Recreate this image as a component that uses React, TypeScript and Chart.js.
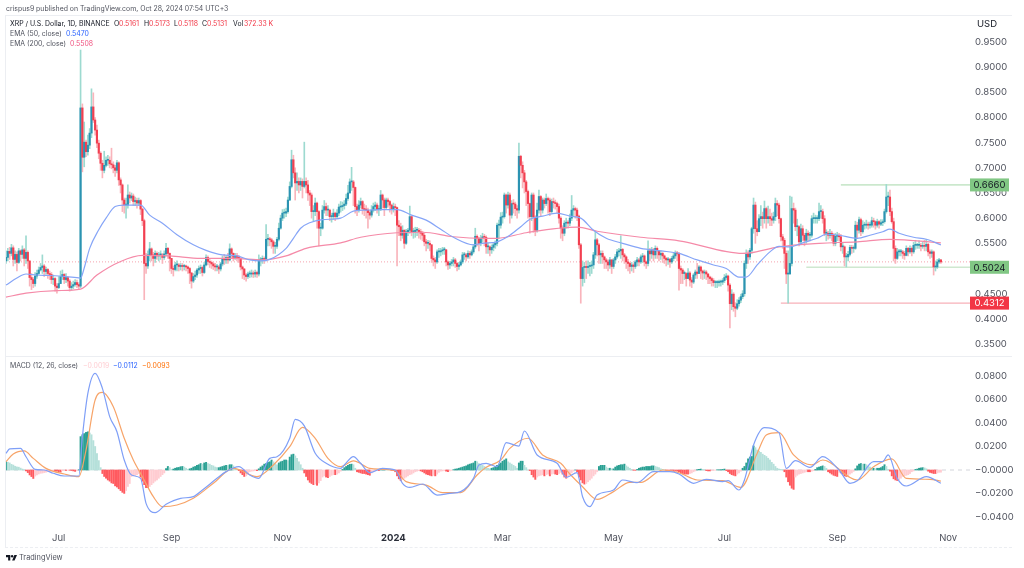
import { useEffect, useRef } from "react";
import { Chart, registerables } from "chart.js";

Chart.register(...registerables);

// daily XRP/USD, 2 Jun 2023 .. 28 Oct 2024, prices in thousandths of a dollar
const firstOpen = 515;
const closes = [
  522,534,530,541,518,528,512,535,528,537,
  520,532,515,482,478,470,485,490,497,502,
  505,494,498,490,488,478,480,465,462,470,
  484,488,478,482,475,462,465,468,472,468,
  465,819,721,751,732,745,769,821,795,775,
  749,729,709,695,705,715,715,708,706,700,
  695,710,676,666,636,626,626,646,640,644,
  633,635,630,635,618,595,510,505,527,539,
  527,520,530,525,527,527,522,529,540,530,
  520,500,498,507,507,504,505,504,505,503,
  500,491,475,484,487,497,500,502,492,507,
  522,514,512,509,505,503,503,499,509,520,
  517,522,517,539,530,522,525,522,520,503,
  499,487,484,489,489,491,489,492,489,517,
  517,520,517,558,558,557,553,544,544,558,
  580,600,610,610,613,636,663,716,690,670,
  673,666,673,663,673,666,650,646,613,613,
  630,613,580,580,616,623,616,616,603,603,
  610,603,610,622,623,625,628,639,650,672,
  672,661,623,616,626,633,619,617,616,611,
  606,616,623,626,617,617,646,636,621,636,
  633,626,617,623,621,586,583,566,576,550,
  573,576,603,573,573,576,576,573,570,566,
  553,550,550,547,520,517,513,533,533,535,
  537,537,513,507,510,513,517,510,504,507,
  513,527,527,523,530,527,533,543,564,560,
  550,560,563,562,543,543,537,542,547,550,
  586,586,602,603,646,626,646,606,629,628,
  619,616,723,705,690,672,653,629,603,646,
  602,576,616,643,616,636,629,639,636,613,
  633,631,629,623,600,580,570,590,591,590,
  600,616,619,616,604,547,480,502,504,502,
  504,505,507,527,557,547,527,530,523,517,
  513,507,517,504,517,523,533,535,538,527,
  523,513,510,504,507,504,513,517,513,523,
  525,513,510,535,529,537,527,540,535,527,
  530,525,520,517,518,513,520,525,530,529,
  500,497,490,490,480,491,477,473,487,493,
  490,503,495,491,493,489,483,480,476,472,
  472,472,473,473,476,482,485,467,430,449,
  424,421,430,437,444,450,510,530,523,536,
  579,626,579,573,599,603,599,619,599,603,
  599,596,603,629,626,599,563,556,530,489,
  489,510,619,616,583,583,553,579,566,556,
  570,566,566,599,599,599,599,613,613,599,
  570,570,566,570,566,550,564,566,563,543,
  543,523,523,528,542,540,540,586,576,597,
  573,586,586,588,586,586,595,593,586,593,
  588,591,593,613,642,642,613,593,540,520,
  533,533,533,530,526,540,533,540,533,546,
  546,546,546,544,546,544,548,533,530,533,
  503,503,513,517,513,
];
const highs = [
  535,540,542,548,545,535,533,540,537,545,
  540,565,535,515,490,482,492,497,503,510,
  527,508,503,500,495,492,487,482,470,484,
  495,497,490,490,484,478,472,475,478,477,
  472,934,827,791,755,765,778,857,849,800,
  785,755,732,715,733,722,725,722,739,712,
  705,715,712,680,668,640,640,666,652,650,
  648,642,640,640,637,620,598,530,535,552,
  541,532,535,533,532,535,530,535,550,542,
  531,520,505,512,515,510,510,510,508,507,
  505,502,492,490,495,500,505,507,505,512,
  527,525,518,515,512,510,508,506,512,525,
  528,525,530,549,541,531,530,530,526,522,
  505,500,490,493,495,497,495,497,495,527,
  522,525,523,587,568,562,560,556,552,562,
  590,606,617,618,620,642,672,735,725,700,
  690,680,680,678,751,680,675,655,650,625,
  640,632,615,590,625,635,630,625,618,610,
  618,612,617,628,633,632,635,648,665,678,
  701,675,662,628,635,640,635,628,625,620,
  615,625,630,632,630,625,655,648,640,640,
  640,635,628,630,628,622,595,590,585,577,
  578,580,624,604,580,582,582,580,578,574,
  570,558,556,555,548,525,522,537,540,540,
  542,542,538,515,514,518,522,520,512,512,
  517,532,532,530,535,534,537,548,580,567,
  562,566,570,568,565,550,545,547,551,555,
  590,596,611,612,650,648,652,650,635,637,
  632,625,749,725,712,695,675,656,630,650,
  650,605,630,656,645,640,640,648,642,640,
  638,640,636,632,628,603,585,595,600,595,
  608,645,625,622,620,606,550,515,512,515,
  515,512,515,532,573,560,550,535,535,525,
  520,517,522,518,520,528,538,540,565,540,
  530,525,518,512,512,510,516,522,520,527,
  530,527,515,555,540,542,540,545,543,535,
  535,532,527,522,522,520,524,530,535,534,
  532,505,500,495,492,500,494,482,490,497,
  510,506,505,497,497,496,490,485,483,480,
  476,476,477,477,480,488,490,487,470,458,
  452,432,438,442,449,456,515,537,535,540,
  582,640,632,595,607,625,612,634,622,624,
  618,610,612,640,635,630,600,568,560,535,
  535,644,642,630,620,598,585,588,585,570,
  578,575,572,605,610,606,605,630,625,618,
  605,577,574,578,574,570,570,572,570,568,
  550,545,530,534,546,546,545,594,592,602,
  600,595,592,596,592,592,602,600,595,598,
  595,597,597,618,667,652,656,620,600,545,
  540,538,538,536,534,545,542,545,543,552,
  556,550,555,550,552,556,558,550,537,537,
  535,515,518,520,518,
];
const lows = [
  510,515,518,525,505,510,495,510,515,520,
  505,510,500,465,458,462,465,480,488,495,
  490,484,488,480,478,470,468,455,451,460,
  470,478,470,472,465,455,457,460,465,462,
  460,462,692,702,722,725,738,760,790,765,
  740,718,695,680,690,702,705,700,698,690,
  683,690,665,650,613,610,600,620,630,635,
  625,625,620,625,607,585,438,490,500,515,
  515,505,512,518,515,518,510,518,525,520,
  495,490,485,495,495,495,497,495,497,495,
  490,470,461,472,478,482,490,490,485,490,
  505,507,502,500,498,495,495,490,495,505,
  508,510,510,515,520,515,518,515,512,497,
  480,478,475,480,482,483,482,483,482,485,
  505,510,510,515,545,545,540,530,530,540,
  555,578,595,600,603,610,635,660,680,636,
  655,650,655,640,660,650,635,625,600,595,
  605,580,545,565,578,610,605,605,595,592,
  598,595,600,605,612,615,618,625,635,650,
  655,625,610,605,612,620,608,605,600,580,
  598,602,612,615,610,605,615,620,605,618,
  622,612,608,612,605,505,565,555,560,540,
  548,565,570,565,560,562,565,560,558,555,
  545,535,540,535,512,505,500,510,522,525,
  528,528,505,498,500,505,505,502,495,498,
  505,510,518,515,520,520,525,530,540,545,
  535,545,552,545,530,530,525,530,535,540,
  545,560,580,590,600,610,620,590,600,610,
  605,600,610,680,660,650,625,600,570,595,
  572,565,572,610,605,610,620,625,610,605,
  610,620,618,610,590,560,555,565,580,580,
  585,595,605,600,595,540,431,465,472,480,
  490,485,490,500,520,525,510,510,510,500,
  500,495,500,490,500,510,520,525,520,515,
  510,500,495,490,495,492,500,505,505,510,
  512,505,500,505,515,520,515,520,520,515,
  518,512,510,505,508,502,510,515,520,515,
  457,470,470,478,465,480,465,462,470,480,
  480,490,480,478,480,478,470,470,465,465,
  462,462,465,465,468,472,478,455,382,418,
  415,404,418,425,432,440,445,500,510,518,
  530,570,550,565,590,585,580,590,580,590,
  585,585,590,595,605,590,555,540,500,470,
  431,489,505,590,575,565,545,550,555,545,
  550,555,555,562,590,590,590,595,600,590,
  565,555,558,560,555,545,545,555,555,535,
  530,505,503,515,525,530,532,538,560,570,
  565,570,578,580,578,580,582,582,578,582,
  580,585,585,590,610,625,605,590,515,510,
  518,525,525,520,518,525,525,530,525,530,
  538,540,540,535,540,535,535,525,520,522,
  487,495,500,510,510,
];

// moving averages read at a handful of days: [day index], [price in thousandths]
const ema50Days = [0,6,11,17,24,33,41,43,46,51,55,60,65,74,79,86,94,103,110,119,127,134,140,145,154,158,162,167,174,184,191,198,207,215,223,231,239,246,257,262,270,277,283,288,295,303,310,316,323,330,339,349,360,370,380,389,396,403,407,413,420,425,431,438,446,451,458,468,475,482,486,491,499,506,514];
const ema50Values = [467,481,489,487,486,484,481,501,540,577,600,623,626,626,606,590,567,547,536,527,525,517,515,518,540,560,580,591,597,600,614,616,617,617,606,596,578,562,547,550,553,566,583,598,604,610,604,600,576,560,550,540,535,530,517,507,500,483,483,507,533,544,543,551,560,568,566,560,566,573,578,570,562,558,547];
const ema200Days = [0,11,28,41,50,63,75,90,107,125,141,154,165,184,195,215,229,246,264,270,286,314,325,349,370,405,409,425,447,468,486,514];
const ema200Values = [443,451,456,459,487,514,526,525,520,520,517,525,540,551,562,571,572,563,560,560,571,582,574,562,555,530,531,543,550,553,558,551];

// MACD pane, values in units of 0.0001
const macdDays = [0,2,8,11,16,21,26,32,40,42,45,49,53,57,61,65,69,74,77,82,88,96,103,108,116,121,128,134,139,145,149,156,159,164,170,176,184,186,191,195,200,207,214,218,222,229,237,244,250,257,260,264,270,275,282,285,292,303,308,314,317,321,325,334,339,347,356,365,370,378,385,394,397,403,406,411,417,425,429,434,442,449,458,464,468,477,482,485,490,495,506,514];
const macdValues = [142,179,184,113,6,0,-28,-51,-51,284,652,823,695,454,326,85,-43,-71,-284,-363,-292,-241,-227,-170,-71,-14,28,-43,-71,99,113,270,431,375,142,57,14,43,113,57,-23,14,0,-113,-148,-119,-213,-199,-184,-71,43,57,28,233,204,332,128,57,-62,-23,-227,-312,-213,-170,-85,-108,-14,-14,-34,-113,-79,-99,-91,-170,-85,213,360,318,14,79,23,113,0,-113,-91,71,71,128,-71,-136,-57,-113];
const signalDays = [0,4,10,15,22,32,40,44,49,53,59,65,70,75,81,86,94,103,114,125,138,147,156,163,170,177,184,191,200,207,214,220,231,240,250,259,264,272,277,287,295,305,310,317,325,334,343,349,361,370,380,394,404,413,418,425,433,443,449,468,477,487,495,508,514];
const signalValues = [71,136,162,99,14,-34,-57,170,596,661,539,270,85,-57,-227,-312,-298,-241,-113,14,-57,43,199,363,270,99,28,77,14,6,-6,-99,-128,-193,-193,-43,23,85,184,270,128,57,-34,-142,-250,-184,-105,-105,0,-23,-85,-91,-148,142,298,318,128,43,85,-85,28,94,-71,-79,-94];
const histogram = [
  70,66,60,48,42,32,26,24,16,8,
  2,-8,-22,-42,-56,-72,-52,-42,-34,-28,
  -26,-22,-18,-14,-12,-10,-8,-8,-10,-14,
  -18,-6,-4,-4,-2,-2,-4,-8,-12,-6,
  2,284,300,310,320,325,315,300,250,200,
  140,80,20,-30,-55,-70,-85,-95,-110,-115,
  -135,-145,-160,-175,-190,-199,-175,-140,-115,-55,
  -50,-45,-40,-30,-60,-95,-125,-150,-150,-140,
  -125,-110,-95,-85,-70,-55,-40,-25,12,30,
  20,5,8,15,20,22,28,30,25,15,
  5,10,15,25,30,40,45,55,50,60,
  65,55,50,40,35,25,20,20,25,30,
  35,40,38,45,45,35,20,5,-5,-25,
  -40,-55,-50,-35,-15,-10,-8,-5,-5,10,
  25,35,50,55,65,70,85,70,55,45,
  60,70,75,85,85,80,110,130,135,120,
  100,70,45,15,-25,-55,-85,-105,-115,-125,
  -120,-130,-110,-90,-60,-50,-60,-65,-55,-45,
  -40,-40,-35,-25,-10,5,20,30,40,48,
  50,45,15,-15,-20,-25,-30,-30,-35,-40,
  -45,-25,-15,-8,-5,-5,3,8,10,8,
  5,3,-3,-5,-15,-50,-75,-90,-80,-70,
  -60,-50,-40,-35,-25,-15,-10,-5,-8,-15,
  -25,-35,-40,-45,-50,-45,-50,-35,-20,-10,
  -8,-5,-10,-15,-8,-3,3,8,10,15,
  20,25,30,35,45,50,55,60,75,70,
  55,45,40,30,20,15,10,15,20,30,
  40,50,60,75,85,95,70,60,50,40,
  30,15,60,75,75,40,20,0,-5,-40,
  -60,-80,-60,-50,-45,-40,-50,-40,-35,-50,
  -35,-30,-35,-40,-30,-20,-35,-60,-70,-55,
  -40,-25,-10,0,-15,-60,-85,-110,-120,-115,
  -100,-85,-70,-50,-35,-15,30,40,40,40,
  25,15,15,10,10,25,35,40,45,45,
  50,35,25,15,5,-2,-3,5,15,20,
  25,25,30,30,30,35,35,30,25,20,
  10,5,0,-3,-3,-3,-3,-5,-5,-10,
  -15,-25,-30,-35,-35,-35,-30,-25,-15,-8,
  3,5,8,5,3,-5,-8,-8,-5,-3,
  -2,2,2,3,5,8,-5,-15,-30,-40,
  -45,-50,-35,-25,-10,15,30,60,95,110,
  115,205,190,170,160,150,135,125,115,100,
  85,65,50,30,15,8,5,3,-15,-60,
  -100,-130,-155,-165,-60,-45,-35,-30,-25,-20,
  -15,-15,-15,-10,-5,5,20,25,30,35,
  30,15,-15,-25,-35,-45,-50,-55,-20,-25,
  -35,-50,-55,-50,-35,-25,-12,10,35,50,
  55,50,50,45,30,25,15,15,10,15,
  15,20,30,45,30,5,-10,-50,-75,-85,
  -90,-85,-70,-55,-50,-45,-40,-30,-15,-8,
  5,8,15,18,20,18,10,-10,-20,-25,
  -30,-30,-25,-20,-19,
];

const priceTicks = [0.95,0.9,0.85,0.8,0.75,0.7,0.65,0.6,0.55,0.5,0.45,0.4,0.35];
const macdTicks = [0.08,0.06,0.04,0.02,0,-0.02,-0.04];
const timeTickDays = [29,91,152,213,273,334,395,457,518];
const timeTickNames = ["Jul","Sep","Nov","2024","Mar","May","Jul","Sep","Nov"];
const lastPrice = 0.5131;
const levelDays = [459,440,426];
const levelPrices = [0.666,0.5024,0.4312];
const levelLines = ["#a5d8a8","#cfe8d0","#f7b0b8"];
const levelWidths = [1,1.6,1.2];
const levelTags = ["#81c784","#81c784","#f23645"];
const levelInk = ["#131722","#131722","#ffffff"];

const dayCount = 531; // candles plus the empty right margin
const dayLabels = Array.from({ length: dayCount }, (_, i) =>
  new Date(Date.UTC(2023, 5, 2 + i)).toISOString().slice(0, 10),
);

const FONT = "Inter, 'Noto Sans', sans-serif";
const RED = "#f23645";
const UP_BODY = "#2b93b2";
const DOWN_BODY = "#f23f50";
const UP_WICK = "#9ddad0";
const DOWN_WICK = "#f9b4bb";
const SOFT = "blur(0.3px)"; // the reference is a slightly soft screenshot

const opens = closes.map((_, i) => (i === 0 ? firstOpen : closes[i - 1]));
const isUp = closes.map((c, i) => c >= opens[i]);

const sparse = (days: number[], values: number[], scale: number) =>
  days.map((d, i) => ({ x: dayLabels[d], y: values[i] / scale }));

const flatLine = (from: number, value: number) => [
  { x: dayLabels[from], y: value },
  { x: dayLabels[dayCount - 1], y: value },
];

const levelTagsPlugin = {
  id: "levelTags",
  afterDatasetsDraw(chart: any) {
    const { ctx } = chart;
    const y = chart.scales.y;
    ctx.save();
    ctx.font = `9.5px ${FONT}`;
    ctx.textAlign = "center";
    ctx.textBaseline = "middle";
    levelPrices.forEach((p, i) => {
      const py = y.getPixelForValue(p);
      ctx.fillStyle = levelTags[i];
      ctx.fillRect(970, py - 6.5, 39, 13);
      ctx.fillStyle = levelInk[i];
      ctx.fillText(p.toFixed(4), 989.5, py + 0.5);
    });
    ctx.restore();
  },
};

const hiddenX = { display: false, offset: false, grid: { display: false } };

const yScale = (min: number, max: number, ticks: number[], fmt: (v: number) => string) => ({
  position: "right",
  min,
  max,
  grid: { display: false, drawTicks: false },
  border: { display: false },
  afterFit: (s: any) => { s.width = 54; },
  afterBuildTicks: (s: any) => { s.ticks = ticks.map((value) => ({ value })); },
  ticks: {
    padding: 5,
    color: "#50535e",
    font: { family: FONT, size: 9.5 },
    callback: (v: number) => fmt(v),
  },
});

const Text = ({ x, y, size = 6.9, color = "#50535e", children }: any) => (
  <div style={{ position: "absolute", left: x, top: y, fontSize: size, color, lineHeight: "10px", whiteSpace: "pre", fontFamily: FONT }}>
    {children}
  </div>
);

const Rule = ({ x, y, w, h, dashed }: any) => (
  <div style={{ position: "absolute", left: x, top: y, width: w, height: h, background: dashed ? "none" : "#eceef2", borderBottom: dashed ? "1px dashed #eceef2" : "none" }} />
);

const App = () => {
  const priceRef = useRef<HTMLCanvasElement>(null);
  const macdRef = useRef<HTMLCanvasElement>(null);

  useEffect(() => {
    if (!priceRef.current || !macdRef.current) return;

    const priceChart = new Chart(priceRef.current, {
      type: "bar",
      data: {
        labels: dayLabels,
        datasets: [
          {
            type: "line",
            data: flatLine(0, lastPrice),
            borderColor: "#f5a3ad",
            borderWidth: 1,
            borderDash: [1, 2],
            pointRadius: 0,
            order: 5,
          },
          ...levelPrices.map((p, i) => ({
            type: "line",
            data: flatLine(levelDays[i], p),
            borderColor: levelLines[i],
            borderWidth: levelWidths[i],
            pointRadius: 0,
            order: 4,
          })),
          {
            label: "wicks",
            data: closes.map((_, i) => [lows[i] / 1000, highs[i] / 1000]),
            backgroundColor: isUp.map((u) => (u ? UP_WICK : DOWN_WICK)),
            barThickness: 1,
            grouped: false,
            order: 3,
          },
          {
            label: "bodies",
            data: closes.map((c, i) => [opens[i] / 1000, c / 1000]),
            backgroundColor: isUp.map((u) => (u ? UP_BODY : DOWN_BODY)),
            barThickness: 1.5,
            grouped: false,
            minBarLength: 1,
            order: 2,
          },
          {
            type: "line",
            data: sparse(ema200Days, ema200Values, 1000),
            borderColor: "#f58aa8",
            borderWidth: 1.2,
            pointRadius: 0,
            cubicInterpolationMode: "monotone",
            order: 1,
          },
          {
            type: "line",
            data: sparse(ema50Days, ema50Values, 1000),
            borderColor: "#86a5f7",
            borderWidth: 1.2,
            pointRadius: 0,
            cubicInterpolationMode: "monotone",
            order: 0,
          },
        ],
      } as any,
      options: {
        responsive: false,
        animation: false,
        layout: { padding: { left: 6, top: 15, right: 0, bottom: 212 } },
        plugins: { legend: { display: false }, tooltip: { enabled: false } },
        scales: {
          x: hiddenX,
          y: yScale(0.3261, 1.00365, priceTicks, (v) => v.toFixed(4)),
        },
      } as any,
      plugins: [levelTagsPlugin],
    });

    const macdChart = new Chart(macdRef.current, {
      type: "bar",
      data: {
        labels: dayLabels,
        datasets: [
          {
            type: "line",
            data: flatLine(0, 0),
            borderColor: "#d3d6dc",
            borderWidth: 1,
            borderDash: [4, 4],
            pointRadius: 0,
            order: 3,
          },
          {
            label: "Histogram",
            data: histogram.map((v) => v / 10000),
            backgroundColor: histogram.map((v, i) => {
              const prev = i === 0 ? v : histogram[i - 1];
              if (v >= 0) return v >= prev ? "#2aa093" : "#b5e0da";
              return v <= prev ? "#ff5a5f" : "#ffccd1";
            }),
            barThickness: 1.3,
            grouped: false,
            order: 2,
          },
          {
            type: "line",
            data: sparse(signalDays, signalValues, 10000),
            borderColor: "#f7a469",
            borderWidth: 1.2,
            pointRadius: 0,
            cubicInterpolationMode: "monotone",
            order: 1,
          },
          {
            type: "line",
            data: sparse(macdDays, macdValues, 10000),
            borderColor: "#7f9ff7",
            borderWidth: 1.2,
            pointRadius: 0,
            cubicInterpolationMode: "monotone",
            order: 0,
          },
        ],
      } as any,
      options: {
        responsive: false,
        animation: false,
        layout: { padding: { left: 6, top: 356, right: 0, bottom: 21 } },
        plugins: { legend: { display: false }, tooltip: { enabled: false } },
        scales: {
          x: {
            offset: false,
            grid: { display: false, drawTicks: false },
            border: { display: false },
            afterFit: (s: any) => { s.height = 18; },
            afterBuildTicks: (s: any) => { s.ticks = timeTickDays.map((value) => ({ value })); },
            ticks: {
              autoSkip: false,
              maxRotation: 0,
              padding: 3,
              color: (c: any) => (c.tick?.value === 213 ? "#2a2e39" : "#50535e"),
              font: (c: any) => ({ family: FONT, size: 9.5, weight: c.tick?.value === 213 ? "bold" : "normal" }),
              callback: (v: number) => timeTickNames[timeTickDays.indexOf(v)],
            },
          },
          y: yScale(-0.0502, 0.097, macdTicks, (v) =>
            v <= 0 ? "\u2212" + Math.abs(v).toFixed(4) : v.toFixed(4),
          ),
        },
      } as any,
    });

    return () => {
      priceChart.destroy();
      macdChart.destroy();
    };
  }, []);

  return (
    <div style={{ position: "absolute", left: 0, top: 0, width: 1024, height: 568, background: "#fff", overflow: "hidden" }}>
      <Rule x={5} y={15} w={1007} h={1} />
      <Rule x={5} y={15} w={1} h={532} />
      <Rule x={5} y={356} w={1007} h={1} />
      <Rule x={5} y={546} w={1007} h={1} dashed />
      <canvas ref={priceRef} width={1024} height={568} style={{ position: "absolute", left: 0, top: 0, filter: SOFT }} />
      <canvas ref={macdRef} width={1024} height={568} style={{ position: "absolute", left: 0, top: 0, filter: SOFT }} />
      <Text x={6} y={4}>crispus9 published on TradingView.com, Oct 28, 2024 07:54 UTC+3</Text>
      <Text x={10} y={19} color="#131722">XRP / U.S. Dollar, 1D, BINANCE</Text>
      <Text x={114} y={19} color="#131722">O</Text>
      <Text x={119} y={19} color={RED}>0.5161</Text>
      <Text x={144} y={19} color="#131722">H</Text>
      <Text x={149} y={19} color={RED}>0.5173</Text>
      <Text x={174} y={19} color="#131722">L</Text>
      <Text x={178} y={19} color={RED}>0.5118</Text>
      <Text x={202} y={19} color="#131722">C</Text>
      <Text x={207} y={19} color={RED}>0.5131</Text>
      <Text x={233} y={19} color="#131722">Vol</Text>
      <Text x={244} y={19} color={RED}>372.33 K</Text>
      <Text x={10} y={29}>EMA (50, close)</Text>
      <Text x={66} y={29} color="#2962ff">0.5470</Text>
      <Text x={10} y={39}>EMA (200, close)</Text>
      <Text x={70} y={39} color="#f0517f">0.5508</Text>
      <Text x={10} y={361}>MACD (12, 26, close)</Text>
      <Text x={83} y={361} color="#ffcdd2">{"\u2212"}0.0019</Text>
      <Text x={113} y={361} color="#2962ff">{"\u2212"}0.0112</Text>
      <Text x={142} y={361} color="#ff6d00">{"\u2212"}0.0093</Text>
      <Text x={977} y={19} size={9.5} color="#131722">USD</Text>
      <svg style={{ position: "absolute", left: 6, top: 554 }} width={11} height={7} viewBox="0 0 36 20">
        <path d="M14 20H7V9H0V2h14v18zM28 20h-8l7.500-18H36l-8 18z" fill="#131722" />
        <circle cx="20" cy="6" r="4" fill="#131722" />
      </svg>
      <Text x={19} y={553} size={7.4}>TradingView</Text>
    </div>
  );
};

export default App;
